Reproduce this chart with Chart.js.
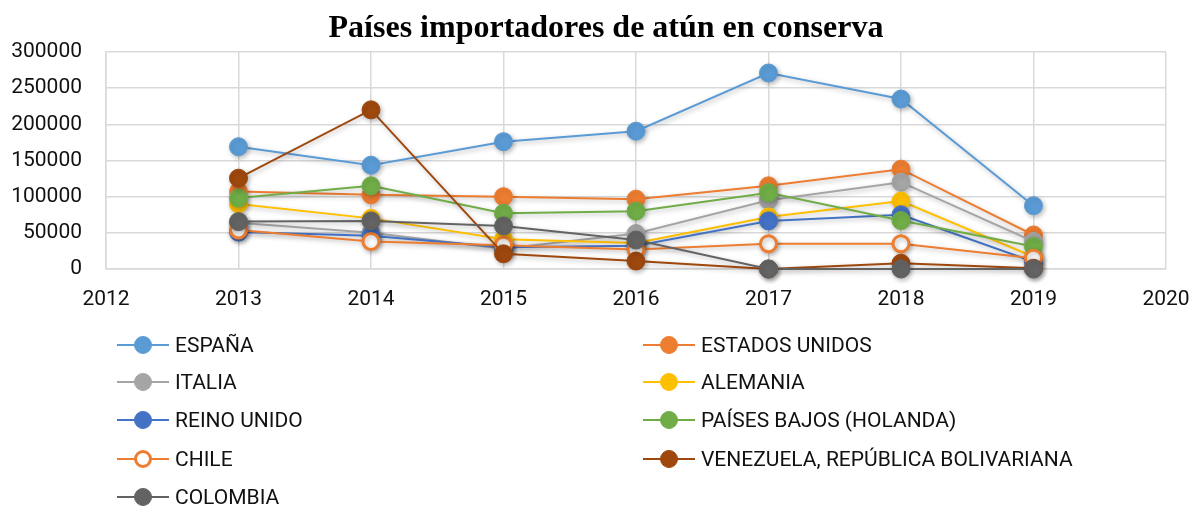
<!DOCTYPE html>
<html lang="es">
<head>
<meta charset="utf-8">
<title>Países importadores de atún en conserva</title>
<script src="https://cdn.jsdelivr.net/npm/chart.js@4.4.1/dist/chart.umd.min.js"></script>
<style>
  html, body { margin:0; padding:0; background:#fff; }
  #wrap { position:relative; width:1193px; height:506px; overflow:hidden; }
  #grafico { position:absolute; left:0; top:0; }
  #titulo { position:absolute; left:406px; width:400px; top:8px; height:36px; line-height:36px; text-align:center; white-space:nowrap;
            font:bold 32px "Liberation Serif", "Times New Roman", serif; color:#000; display:flex; justify-content:center; }
  #leyenda { position:absolute; left:0; top:0; width:1193px; height:506px; pointer-events:none; }
  .item { position:absolute; height:30px; display:flex; align-items:center; font:21px Roboto, sans-serif; color:#111; white-space:nowrap; }
  .muestra { position:relative; width:52px; height:30px; margin-right:6px; }
  .muestra .ln { position:absolute; left:0; right:0; top:14px; height:2px; }
  .muestra .pt { position:absolute; left:17px; top:6px; width:18px; height:18px; border-radius:50%; box-sizing:border-box; }
</style>
</head>
<body>
<div id="wrap">
  <canvas id="grafico" width="1193" height="320"></canvas>
  <div id="titulo">Países importadores de atún en conserva</div>
  <div id="leyenda"></div>
</div>
<script>
/* ================= Datos ================= */
const anios = [2013, 2014, 2015, 2016, 2017, 2018, 2019];

const paises = [
  'ESPAÑA', 'ESTADOS UNIDOS', 'ITALIA', 'ALEMANIA', 'REINO UNIDO',
  'PAÍSES BAJOS (HOLANDA)', 'CHILE', 'VENEZUELA, REPÚBLICA BOLIVARIANA', 'COLOMBIA'
];

const espana       = [169000, 143500, 176000, 190500, 271000, 235000, 87500];
const estadosUnidos= [107000, 102500, 100000,  96500, 115000, 138000, 47000];
const italia       = [ 64000,  50000,  28000,  49000,  95000, 120000, 38000];
const alemania     = [ 90000,  70000,  41000,  36000,  72000,  94000, 17000];
const reinoUnido   = [ 51000,  46000,  30000,  32000,  66500,  75000, 10000];
const paisesBajos  = [ 98000, 115000,  77000,  80000, 105500,  67000, 31000];
const chile        = [ 54000,  38000,  33000,  27000,  35000,  35000, 15000];
const venezuela    = [125500, 220000,  21000,  11000,      0,   8000,  1000];
const colombia     = [ 65500,  66500,  59500,  40000,      0,      0,     0];

const series = [espana, estadosUnidos, italia, alemania, reinoUnido, paisesBajos, chile, venezuela, colombia];

const colores = ['#5B9BD5', '#ED7D31', '#A5A5A5', '#FFC000', '#4472C4', '#70AD47', '#ED7D31', '#9E480E', '#636363'];
const rellenos = ['#5B9BD5', '#ED7D31', '#A5A5A5', '#FFC000', '#4472C4', '#70AD47', '#FFFFFF', '#9E480E', '#636363'];

/* ================= Helpers ================= */
function qs(id){ return document.getElementById(id); }
const fuente = 'Roboto, "Liberation Sans", sans-serif';

// sombra suave como en Excel
const sombra = {
  id: 'sombra',
  beforeDatasetsDraw(chart){
    const c = chart.ctx;
    c.save();
    c.shadowColor = 'rgba(0,0,0,0.28)';
    c.shadowBlur = 5;
    c.shadowOffsetX = 1.5;
    c.shadowOffsetY = 2;
  },
  afterDatasetsDraw(chart){ chart.ctx.restore(); }
};

/* ================= Gráfico ================= */
const datasets = paises.map((nombre, i) => ({
  label: nombre,
  data: anios.map((a, k) => ({ x: a, y: series[i][k] })),
  borderColor: colores[i],
  backgroundColor: rellenos[i],
  borderWidth: 2,
  pointRadius: i === 6 ? 8 : 9,
  pointBorderWidth: i === 6 ? 3 : 1,
  pointBorderColor: colores[i],
  pointBackgroundColor: rellenos[i],
  tension: 0,
  clip: false,
  order: paises.length - i   // el último (COLOMBIA) encima
}));

new Chart(qs('grafico'), {
  type: 'line',
  data: { datasets },
  plugins: [sombra],
  options: {
    responsive: false,
    animation: false,
    layout: { padding: { left: 0, right: 27, top: 52, bottom: 0 } },
    plugins: {
      legend: { display: false },
      tooltip: { enabled: false },
      title: { display: false }
    },
    scales: {
      x: {
        type: 'linear',
        min: 2012, max: 2020,
        afterFit: s => { s.height = 51; s.paddingLeft = 0; s.paddingRight = 0; },
        grid: { color: '#d9d9d9', lineWidth: 1.5, drawTicks: false },
        border: { color: '#d9d9d9', width: 1.5 },
        ticks: { stepSize: 1, padding: 18, color: '#111', font: { family: fuente, size: 21 }, callback: v => String(v) }
      },
      y: {
        min: 0, max: 300000,
        afterFit: s => { s.width = 106; s.paddingTop = 0; s.paddingBottom = 0; },
        grid: { color: '#d9d9d9', lineWidth: 1.5, drawTicks: false },
        border: { color: '#d9d9d9', width: 1.5 },
        ticks: { stepSize: 50000, padding: 24, color: '#111', font: { family: fuente, size: 21 }, callback: v => String(v) }
      }
    }
  }
});

/* ================= Leyenda (dos columnas) ================= */
const leyenda = qs('leyenda');
const filasY = [345, 382, 420, 459, 497];
const colX = [117, 643];
paises.forEach((nombre, i) => {
  const el = document.createElement('div');
  el.className = 'item';
  el.style.left = colX[i % 2] + 'px';
  el.style.top = (filasY[Math.floor(i / 2)] - 15) + 'px';
  const bw = i === 6 ? 3 : 1;
  el.innerHTML = `<span class="muestra"><span class="ln" style="background:${colores[i]}"></span>` +
    `<span class="pt" style="background:${rellenos[i]};border:${bw}px solid ${colores[i]}"></span></span>` +
    `<span>${nombre}</span>`;
  leyenda.appendChild(el);
});
</script>
</body>
</html>
